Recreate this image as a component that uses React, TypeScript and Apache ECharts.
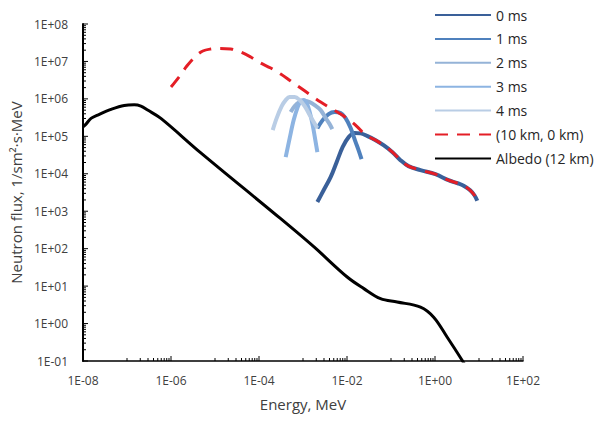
import React, { useEffect, useRef } from 'react';
import * as echarts from 'echarts';

// ---- Data (Energy in MeV, flux in 1/sm²·s·MeV) ----
const seriesNames = ['0 ms', '1 ms', '2 ms', '3 ms', '4 ms', '(10 km, 0 km)', 'Albedo (12 km)'];

// shared high-energy tail of the "0 ms" and "(10 km, 0 km)" curves
const tailEnergy = [2.93e-2, 4.46e-2, 6.76e-2, 0.108, 0.164, 0.249, 0.468, 1.02, 2.02, 3.4, 4.47, 6.31, 7.94, 9.12];
const tailFlux = [1.01e5, 7.91e4, 5.82e4, 3.78e4, 2.31e4, 1.6e4, 1.25e4, 9.75e3, 6.76e3, 5.5e3, 4.79e3, 3.63e3, 2.63e3, 1.91e3];

const energy0ms = [2.12e-3, 2.94e-3, 4.24e-3, 5.81e-3, 7.94e-3, 1.09e-2, 1.49e-2, 2.03e-2];
const flux0ms = [1.77e3, 3.63e3, 8.11e3, 2.04e4, 5.14e4, 9.53e4, 1.22e5, 1.2e5];

const energy1ms = [2.12e-3, 2.79e-3, 3.82e-3, 5.22e-3, 7.14e-3, 9.29e-3, 1.21e-2, 1.57e-2, 1.83e-2, 2.14e-2];
const flux1ms = [1.63e5, 2.71e5, 3.93e5, 4.44e5, 4.17e5, 3.07e5, 1.66e5, 7.0e4, 4.28e4, 2.45e4];

const energy2ms = [5.25e-4, 6.47e-4, 8.39e-4, 1.09e-3, 1.42e-3, 1.84e-3, 2.52e-3, 3.27e-3, 4.03e-3, 4.63e-3];
const flux2ms = [4.44e5, 6.41e5, 8.2e5, 8.73e5, 8.2e5, 6.82e5, 5.02e5, 3.07e5, 2.12e5, 1.56e5];

const energy3ms = [4.04e-4, 4.98e-4, 6.14e-4, 7.57e-4, 8.85e-4, 1.04e-3, 1.21e-3, 1.42e-3, 1.66e-3, 1.94e-3, 2.12e-3];
const flux3ms = [2.78e4, 8.95e4, 2.71e5, 6.04e5, 8.73e5, 9.29e5, 7.73e5, 4.44e5, 1.99e5, 7.0e4, 3.78e4];

const energy4ms = [2.05e-4, 2.52e-4, 3.28e-4, 4.04e-4, 4.98e-4, 6.47e-4, 8.39e-4, 1.09e-3, 1.42e-3, 1.75e-3, 2.12e-3];
const flux4ms = [1.47e5, 3.07e5, 6.41e5, 9.29e5, 1.12e6, 1.12e6, 9.29e5, 6.41e5, 3.69e5, 2.4e5, 1.66e5];

const energyGround = [1.0e-6, 1.51e-6, 2.29e-6, 3.48e-6, 5.28e-6, 8.02e-6, 1.22e-5, 2.28e-5, 3.85e-5, 6.49e-5, 1.09e-4, 1.85e-4, 3.11e-4, 5.25e-4, 8.85e-4, 1.49e-3, 2.52e-3, 4.24e-3, 7.14e-3, 1.21e-2, 1.74e-2, 2.25e-2];
const fluxGround = [2.07e6, 3.83e6, 7.53e6, 1.31e7, 1.9e7, 2.15e7, 2.21e7, 2.15e7, 1.78e7, 1.31e7, 9.06e6, 6.67e6, 4.6e6, 2.99e6, 1.95e6, 1.26e6, 8.2e5, 5.68e5, 3.93e5, 2.55e5, 1.76e5, 1.29e5];

const energyAlbedo = [1e-8, 1.17e-8, 1.52e-8, 2.16e-8, 4.32e-8, 8.65e-8, 1.46e-7, 2.07e-7, 2.94e-7, 5.89e-7, 4.76e-6, 3.11e-4, 1.78e-3, 1.01e-2, 2.42e-2, 5.78e-2, 0.138, 0.468, 0.933, 1.88, 4.13, 5.01];
const fluxAlbedo = [1.79e5, 2.12e5, 3.01e5, 3.69e5, 5.24e5, 6.7e5, 6.95e5, 6.41e5, 5.02e5, 3.01e5, 3.62e4, 631, 111, 17.5, 8.57, 4.63, 3.76, 2.75, 1.48, 0.437, 0.105, 0.071];

// axis ranges
const xMin = 1e-8;
const xMax = 1e2;
const yMin = 1e-1;
const yMax = 1e8;

const colors = ['#3A6099', '#4F81BD', '#95B3D7', '#8DB4E2', '#B9CDE5', '#E41E26', '#000000'];

const pairs = (xs: number[], ys: number[]) => xs.map((x, i) => [x, ys[i]]);

function expLabel(v: number) {
  const e = Math.round(Math.log10(v));
  return '1E' + (e < 0 ? '-' : '+') + String(Math.abs(e)).padStart(2, '0');
}

function buildTicks() {
  const ticks: number[][] = [];
  // x axis: major every 2 decades, minor k*10^d in odd decades (Excel style)
  [-6, -4, -2, 0, 2].forEach((d) => ticks.push([Math.pow(10, d), yMin, 5, 0]));
  [-7, -5, -3, -1, 1].forEach((d) => {
    for (let k = 1; k <= 9; k++) ticks.push([k * Math.pow(10, d), yMin, 3, 0]);
  });
  // y axis: major each decade, minor 2..9
  for (let d = -1; d <= 8; d++) ticks.push([xMin, Math.pow(10, d), 5, 1]);
  for (let d = -1; d <= 7; d++) {
    for (let k = 2; k <= 9; k++) ticks.push([xMin, k * Math.pow(10, d), 3, 1]);
  }
  return ticks;
}

const FONT = "'Open Sans', 'Liberation Sans', sans-serif";

export default function App() {
  const ref = useRef<HTMLDivElement>(null);

  useEffect(() => {
    if (!ref.current) return;
    const chart = echarts.init(ref.current, null, { renderer: 'svg' });

    const lineData = [
      pairs(energy0ms.concat(tailEnergy), flux0ms.concat(tailFlux)),
      pairs(energy1ms, flux1ms),
      pairs(energy2ms, flux2ms),
      pairs(energy3ms, flux3ms),
      pairs(energy4ms, flux4ms),
      pairs(energyGround.concat(tailEnergy), fluxGround.concat(tailFlux)),
      pairs(energyAlbedo, fluxAlbedo),
    ];
    const widths = [4, 4, 4, 4, 4, 3, 3];

    const series: any[] = seriesNames.map((name, i) => ({
      name,
      type: 'line',
      data: lineData[i],
      symbol: 'none',
      smooth: 0.35,
      clip: true,
      lineStyle: {
        color: colors[i],
        width: widths[i],
        type: i === 5 ? [13, 9] : 'solid',
        cap: 'butt',
      },
      itemStyle: { color: colors[i] },
      z: 3,
    }));

    series.push({
      type: 'custom',
      silent: true,
      clip: false,
      z: 4,
      data: buildTicks(),
      renderItem: (_params: any, api: any) => {
        const p = api.coord([api.value(0), api.value(1)]);
        const len = api.value(2);
        const dir = api.value(3);
        const shape =
          dir === 0
            ? { x1: p[0], y1: p[1], x2: p[0], y2: p[1] - len }
            : { x1: p[0], y1: p[1], x2: p[0] + len, y2: p[1] };
        return { type: 'line', shape, style: { stroke: '#000', lineWidth: 1 } };
      },
    });

    chart.setOption({
      animation: false,
      backgroundColor: '#ffffff',
      textStyle: { fontFamily: FONT },
      grid: { left: 82, right: 80, top: 24, bottom: 60, containLabel: false },
      legend: {
        data: seriesNames,
        orient: 'vertical',
        left: 429,
        top: 3,
        itemWidth: 56,
        itemHeight: 14,
        itemGap: 9.9,
        itemStyle: { opacity: 0 },
        textStyle: { fontSize: 14, color: '#262626', fontFamily: FONT },
      },
      xAxis: {
        type: 'log',
        logBase: 100,
        min: xMin,
        max: xMax,
        splitNumber: 5,
        name: 'Energy, MeV',
        nameLocation: 'middle',
        nameGap: 35,
        nameTextStyle: { fontSize: 15, color: '#404040', fontFamily: FONT },
        axisLine: { lineStyle: { color: '#000', width: 1.5 } },
        axisTick: { show: false },
        splitLine: { show: false },
        axisLabel: {
          margin: 13,
          fontSize: 12,
          color: '#404040',
          fontFamily: FONT,
          formatter: (v: number) => expLabel(v),
        },
      },
      yAxis: {
        type: 'log',
        logBase: 10,
        min: yMin,
        max: yMax,
        splitNumber: 9,
        name: 'Neutron flux, 1/sm²·s·MeV',
        nameLocation: 'middle',
        nameGap: 55,
        nameTextStyle: { fontSize: 15, color: '#404040', fontFamily: FONT },
        axisLine: { lineStyle: { color: '#000', width: 2 } },
        axisTick: { show: false },
        splitLine: { show: false },
        axisLabel: {
          margin: 15,
          fontSize: 12,
          color: '#404040',
          fontFamily: FONT,
          formatter: (v: number) => expLabel(v),
        },
      },
      series,
    });

    return () => chart.dispose();
  }, []);

  return (
    <div
      ref={ref}
      style={{ position: 'fixed', left: 0, top: 0, width: 603, height: 421, background: '#fff' }}
    />
  );
}
